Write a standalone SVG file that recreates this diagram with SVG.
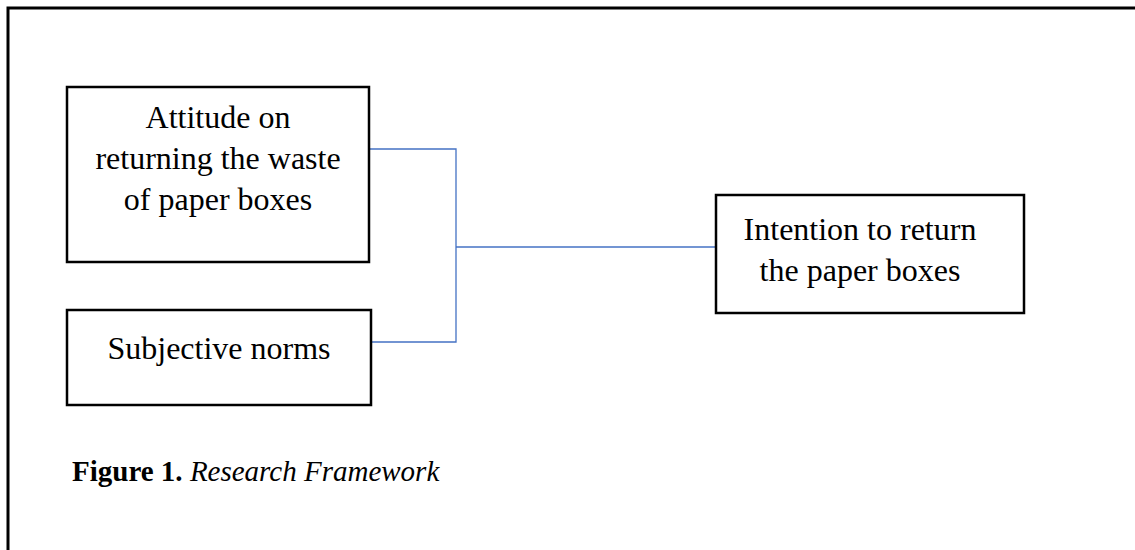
<svg xmlns="http://www.w3.org/2000/svg" width="1135" height="550" viewBox="0 0 1135 550">
<style>
.box{fill:#fff;stroke:#000;stroke-width:2.5}
.t{font-family:"Liberation Serif","Times New Roman",serif;font-size:32px;fill:#000;text-anchor:middle}
.conn{fill:none;stroke:#4472c4;stroke-width:1.3}
.cap{font-family:"Liberation Serif","Times New Roman",serif;font-size:29px;fill:#000}
</style>
<rect width="1135" height="550" fill="#fff"/>
<path d="M8,550 V8 H1135" fill="none" stroke="#000" stroke-width="3"/>
<g id="connectors">
<path class="conn" d="M370,149 H456 V342 H372"/>
<path class="conn" d="M456,247 H716"/>
</g>
<g id="attitude">
<rect class="box" x="67" y="87" width="302" height="175"/>
<text class="t" x="218" y="128">Attitude on</text>
<text class="t" x="218" y="169">returning the waste</text>
<text class="t" x="218" y="210">of paper boxes</text>
</g>
<g id="norms">
<rect class="box" x="67" y="310" width="304" height="95"/>
<text class="t" x="219" y="359">Subjective norms</text>
</g>
<g id="intention">
<rect class="box" x="716" y="195" width="308" height="118"/>
<text class="t" x="860" y="240">Intention to return</text>
<text class="t" x="860" y="281">the paper boxes</text>
</g>
<g id="caption">
<text class="cap" x="72" y="481"><tspan font-weight="bold">Figure 1.</tspan> <tspan font-style="italic">Research Framework</tspan></text>
</g>
</svg>
